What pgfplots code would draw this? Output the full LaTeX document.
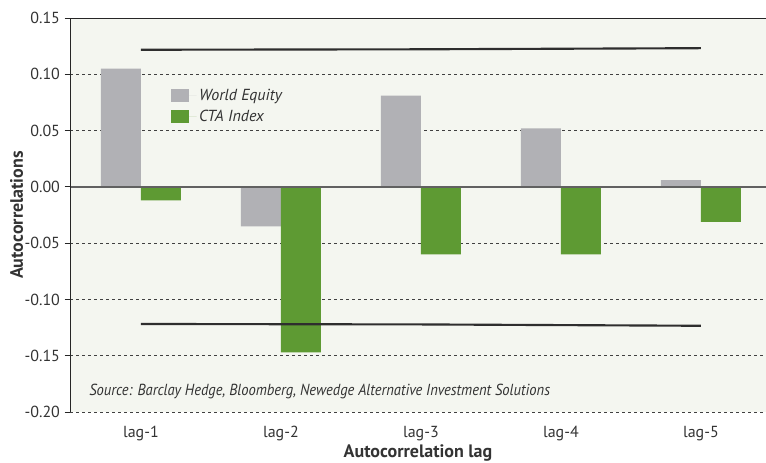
\documentclass[border=0pt]{standalone}
\usepackage{pgfplots}
\pgfplotsset{compat=1.18}
\usepackage{fontspec}
\setmainfont{PT Sans}
\newfontfamily\srcfont[FakeStretch=0.91]{PT Sans}
\definecolor{bgc}{HTML}{F4F6F0}
\definecolor{greyb}{HTML}{B1B1B5}
\definecolor{greenb}{HTML}{5E9A33}
\definecolor{txt}{HTML}{333333}
\begin{document}
\begin{tikzpicture}
\useasboundingbox (0,0) rectangle (574.5pt,346.5pt);
\begin{axis}[
  at={(52.5pt,37.5pt)}, anchor=south west,
  width=522pt, height=295.5pt, scale only axis,
  xmin=-0.507, xmax=4.465, ymin=-0.2, ymax=0.15,
  axis background/.style={fill=bgc},
  axis line style={draw=none},
  xtick={0,1,2,3,4},
  xticklabels={lag-1,lag-2,lag-3,lag-4,lag-5},
  xtick style={draw=none},
  ytick={-0.2,-0.15,-0.1,-0.05,0,0.05,0.1,0.15},
  ytick style={black!85, line width=0.6pt},
  tick align=outside, major tick length=4pt,
  ymajorgrids,
  grid style={black!75, line width=0.5pt, dash pattern=on 2.5pt off 2pt},
  /pgf/number format/assume math mode=true,
  yticklabel style={/pgf/number format/fixed, /pgf/number format/fixed zerofill, /pgf/number format/precision=2, font=\fontsize{12}{14}\selectfont, text=txt},
  xticklabel style={font=\fontsize{12}{14}\selectfont, text=txt, yshift=-3pt},
  legend style={at={(0.145,0.827)}, anchor=north west, draw=none, fill=none, font=\fontsize{12}{14}\selectfont\itshape, text=txt, inner sep=0pt, row sep=1.5pt},
  legend cell align=left,
  legend image code/.code={\path[#1] (0pt,-5pt) rectangle (13.5pt,5pt); \path (0pt,0pt) -- (19pt,0pt);},
]
\addplot[ybar, bar width=30pt, bar shift=-15pt, fill=greyb, draw=none] coordinates {(0,0.105) (1,-0.035) (2,0.081) (3,0.052) (4,0.006)};
\addlegendentry{World Equity}
\addplot[ybar, bar width=30pt, bar shift=15pt, fill=greenb, draw=none] coordinates {(0,-0.012) (1,-0.147) (2,-0.060) (3,-0.060) (4,-0.031)};
\addlegendentry{CTA Index}
\addplot[sharp plot, no marks, black!82, line width=1.6pt, forget plot] coordinates {(0,0.1218) (2,0.1222) (4,0.1232)};
\addplot[sharp plot, no marks, black!82, line width=1.6pt, forget plot] coordinates {(0,-0.1218) (2,-0.1222) (4,-0.1234)};
\draw[black!62, line width=1pt] (axis cs:-0.507,0) -- (axis cs:4.465,0);
\draw[black!85, line width=1pt] (rel axis cs:0,0) -- (rel axis cs:0,1) -- (rel axis cs:1,1);
\node[anchor=west, text=txt, font=\srcfont\fontsize{12}{14}\selectfont\itshape] at (rel axis cs:0.021,0.052) {Source: Barclay Hedge, Bloomberg, Newedge Alternative Investment Solutions};
\end{axis}
\node[rotate=90, text=txt, font=\fontsize{13.5}{15}\selectfont\bfseries] at (12.5pt,185.25pt) {Autocorrelations};
\node[text=txt, font=\fontsize{13.5}{15}\selectfont\bfseries] at (313.5pt,6.8pt) {Autocorrelation lag};
\end{tikzpicture}
\end{document}
